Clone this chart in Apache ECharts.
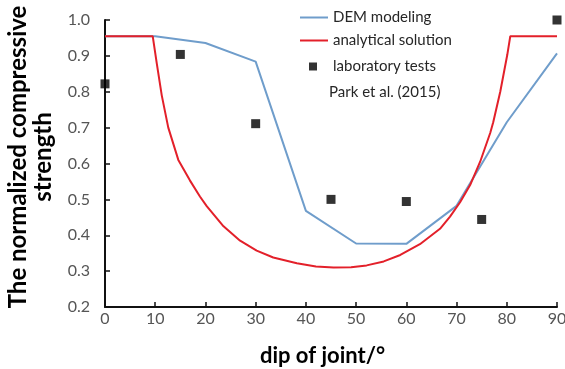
<!DOCTYPE html>
<html>
<head>
<meta charset="utf-8">
<style>
  html, body { margin: 0; padding: 0; background: #fff; }
  #chart { width: 565px; height: 369px; }
</style>
<script src="https://cdn.jsdelivr.net/npm/echarts@6/dist/echarts.min.js"></script>
</head>
<body>
<div id="chart"></div>
<script>
// Dip angles (degrees) for the DEM runs and the lab specimens
const demDips = [0, 10, 20, 30, 40, 50, 60, 70, 80, 90];
const demStrength = [0.955, 0.955, 0.936, 0.884, 0.468, 0.377, 0.376, 0.482, 0.715, 0.907];

const labDips = [0, 15, 30, 45, 60, 75, 90];
const labStrength = [0.822, 0.904, 0.711, 0.500, 0.494, 0.444, 1.000];

// Analytical (single plane of weakness) curve, sampled along the dip axis
const analyticDips = [0, 9.5, 10.3, 11.3, 12.6, 14.6, 16.9, 18.9, 20.25, 23.6, 26.9, 30.2, 33.5,
  38.2, 42, 45.5, 49, 52.1, 55.5, 58.8, 62.7, 66.7, 68.7, 70.7, 72.7, 74.7, 76.7,
  77.3, 78.7, 80.1, 80.7, 90];
const analyticStrength = [0.955, 0.955, 0.880, 0.790, 0.700, 0.610, 0.553, 0.508, 0.481, 0.425,
  0.385, 0.357, 0.338, 0.322, 0.313, 0.310, 0.311, 0.316, 0.327, 0.345, 0.375, 0.418,
  0.452, 0.492, 0.540, 0.605, 0.685, 0.715, 0.800, 0.903, 0.955, 0.955];

const xTicks = { min: 0, max: 90, step: 10 };
const yTicks = { min: 0.2, max: 1.0, step: 0.1 };

const seriesNames = ['DEM modeling', 'analytical solution', 'laboratory tests'];
const sourceNote = 'Park et al. (2015)';
const xTitle = 'dip of joint/°';
const yTitle = 'The normalized compressive\nstrength';

const zip = (xs, ys) => xs.map((x, i) => [x, ys[i]]);

const FONT = 'Lato, "Open Sans", sans-serif';
const BLUE = '#6f9dcb';
const RED = '#e3202a';

const chart = echarts.init(document.getElementById('chart'), null, { renderer: 'canvas' });

const legendText = { fontFamily: FONT, fontSize: 15, color: '#262626' };

chart.setOption({
  animation: false,
  backgroundColor: '#ffffff',
  grid: { left: 105, right: 8, top: 20, bottom: 62, containLabel: false, outerBoundsMode: 'none' },
  legend: [
    {
      data: [{ name: seriesNames[0], icon: 'rect' }],
      left: 300, top: 10, padding: 0, itemWidth: 28, itemHeight: 2, itemGap: 0,
      textStyle: legendText, selectedMode: false
    },
    {
      data: [{ name: seriesNames[1], icon: 'rect' }],
      left: 300, top: 33, padding: 0, itemWidth: 28, itemHeight: 2, itemGap: 0,
      textStyle: legendText, selectedMode: false
    },
    {
      data: [{ name: seriesNames[2], icon: 'rect' }],
      left: 309, top: 59, padding: 0, itemWidth: 8, itemHeight: 8, itemGap: 0,
      textStyle: Object.assign({ padding: [0, 0, 0, 11] }, legendText), selectedMode: false
    }
  ],
  graphic: [
    {
      type: 'text', left: 329, top: 85,
      style: { text: sourceNote, font: '15px ' + FONT, fill: '#262626' }
    },
    {
      // Two-line vertical title of the strength axis
      type: 'text', x: 31, y: 157, rotation: Math.PI / 2,
      style: {
        text: yTitle, align: 'center', verticalAlign: 'middle',
        font: 'bold 24px ' + FONT, lineHeight: 25, fill: '#000'
      }
    }
  ],
  xAxis: {
    type: 'value',
    min: xTicks.min, max: xTicks.max, interval: xTicks.step,
    name: xTitle,
    nameLocation: 'middle',
    nameGap: 38,
    nameTextStyle: {
      fontFamily: FONT, fontSize: 22, fontWeight: 'bold', color: '#000',
      padding: [0, 17, 0, 0]
    },
    axisLine: { onZero: false, lineStyle: { color: '#111', width: 2 } },
    axisTick: { inside: true, length: 5, lineStyle: { color: '#111', width: 1.5 } },
    axisLabel: { fontFamily: FONT, fontSize: 16, color: '#555', margin: 4 },
    splitLine: { show: false }
  },
  yAxis: {
    type: 'value',
    min: yTicks.min, max: yTicks.max, interval: yTicks.step,
    axisLine: { onZero: false, lineStyle: { color: '#111', width: 2 } },
    axisTick: { inside: true, length: 5, lineStyle: { color: '#111', width: 1.5 } },
    axisLabel: {
      fontFamily: FONT, fontSize: 16, color: '#555', margin: 15,
      formatter: v => v.toFixed(1)
    },
    splitLine: { show: false }
  },
  series: [
    {
      name: seriesNames[0], type: 'line',
      data: zip(demDips, demStrength),
      symbol: 'none', color: BLUE,
      lineStyle: { color: BLUE, width: 2 }, z: 2
    },
    {
      name: seriesNames[1], type: 'line',
      data: zip(analyticDips, analyticStrength),
      symbol: 'none', color: RED, smooth: false,
      lineStyle: { color: RED, width: 2 }, z: 3
    },
    {
      name: seriesNames[2], type: 'scatter',
      data: zip(labDips, labStrength),
      symbol: 'rect', symbolSize: 9, color: '#000', clip: false,
      itemStyle: { color: '#000' }, z: 4
    }
  ]
});
</script>
</body>
</html>
